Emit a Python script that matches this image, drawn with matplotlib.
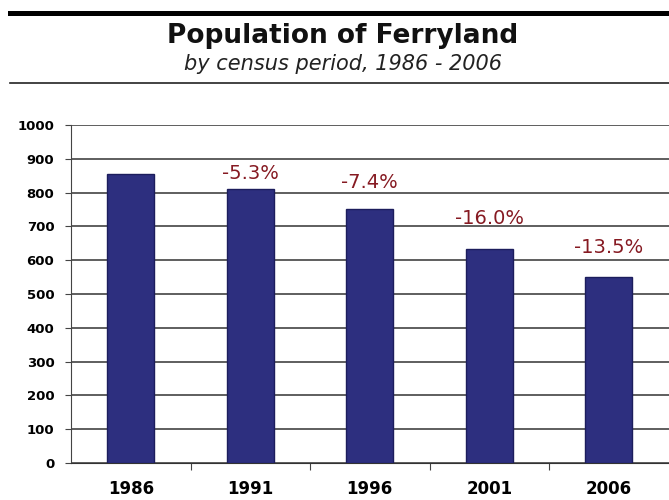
import matplotlib
matplotlib.use("Agg")
import matplotlib.pyplot as plt
from matplotlib.lines import Line2D

years = ["1986", "1991", "1996", "2001", "2006"]
population = [855, 811, 752, 633, 550]
changes = ["", "-5.3%", "-7.4%", "-16.0%", "-13.5%"]
yticks = [0, 100, 200, 300, 400, 500, 600, 700, 800, 900, 1000]

# how far each % label sits above its bar (points)
label_lift = [0, 11, 19, 22, 21]

plt.rcParams['font.family'] = ['DejaVu Sans']

fig = plt.figure(figsize=(6.69, 5.0), dpi=100)
ax = fig.add_axes([71/669, 37/500, 597.5/669, 338/500])

x = range(len(years))
ax.bar(x, population, width=0.39, color="#2d2f7f", edgecolor="#1c1d5c", linewidth=1, zorder=3)

for i, (v, lab) in enumerate(zip(population, changes)):
    if lab:
        ax.annotate(lab, (i, v), xytext=(0, label_lift[i]), textcoords="offset points",
                    ha="center", va="center", color="#861a22", fontsize=14)

ax.set_xlim(-0.5, len(years) - 0.5)
ax.set_ylim(0, 1000)
ax.set_yticks(yticks)
ax.set_yticklabels([str(t) for t in yticks], fontsize=9.5, fontweight="bold")
ax.set_xticks(list(x))
ax.set_xticklabels(years, fontsize=12, fontweight="bold")
ax.tick_params(axis="x", length=0, pad=12)
ax.set_xticks([i + 0.5 for i in range(len(years) - 1)], minor=True)
ax.tick_params(axis="x", which="minor", length=5, width=0.8, color="#444444")
ax.tick_params(axis="y", length=4, width=0.8, color="#444444", pad=8)

ax.yaxis.grid(True, color="#333333", linewidth=1.1, zorder=0)
ax.set_axisbelow(True)
for s in ["top", "right"]:
    ax.spines[s].set_visible(False)
ax.spines["left"].set_color("#444444")
ax.spines["bottom"].set_color("#333333")

fig.add_artist(Line2D([10/669, 1], [0.975, 0.975], color="black", linewidth=3.6))
fig.add_artist(Line2D([10/669, 1], [0.834, 0.834], color="#222222", linewidth=1.2))
fig.text(0.512, 0.928, "Population of Ferryland", ha="center", va="center",
         fontsize=19, fontweight="bold", color="#111111")
fig.text(0.512, 0.872, "by census period, 1986 - 2006", ha="center", va="center",
         fontsize=15, style="italic", color="#222222")

fig.savefig("out.png", dpi=100)
